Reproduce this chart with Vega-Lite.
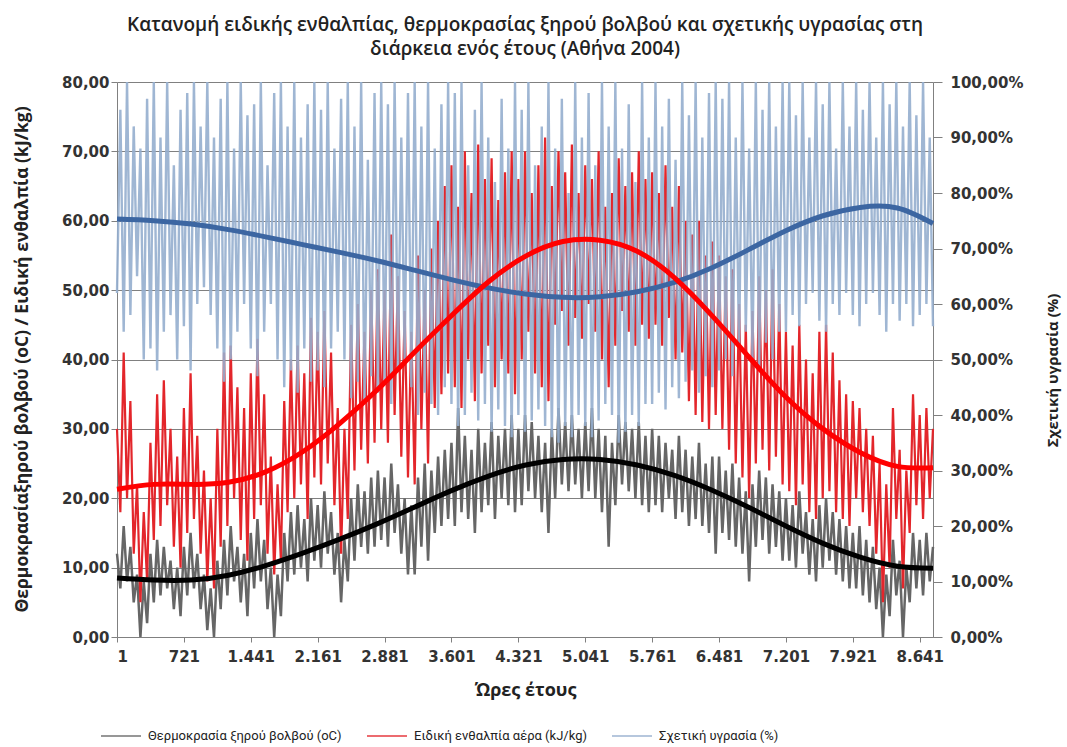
{
  "$schema": "https://vega.github.io/schema/vega-lite/v6.json",
  "width": 816,
  "height": 555,
  "autosize": {"type": "none"},
  "padding": {"left": 117, "top": 82, "right": 134, "bottom": 110},
  "background": "white",
  "config": {
    "view": {"stroke": null},
    "axis": {"domainColor": "#808080", "tickColor": "#808080", "gridColor": "#808080", "labelFont": "DejaVu Sans", "labelFontWeight": "bold", "labelFontSize": 15, "labelColor": "#333333", "titleFont": "Open Sans", "titleFontWeight": "bold", "titleFontSize": 17.5, "titleColor": "#222222"}
  },
  "title": {
    "text": ["Κατανομή ειδικής ενθαλπίας, θερμοκρασίας ξηρού βολβού και σχετικής υγρασίας στη", "διάρκεια ενός έτους (Αθήνα 2004)"],
    "font": "Open Sans", "fontSize": 19, "fontWeight": 600, "color": "#222222",
    "anchor": "middle", "frame": "group", "offset": 16, "lineHeight": 24
  },
  "datasets": {
    "obs": [
      {"h":1,"t":12,"e":30,"r":62},{"h":37,"t":7,"e":18,"r":95},{"h":73,"t":16,"e":41,"r":55},{"h":109,"t":8,"e":20,"r":100},{"h":145,"t":13,"e":34,"r":58},{"h":181,"t":5,"e":12,"r":92},{"h":217,"t":9,"e":22,"r":65},{"h":253,"t":0,"e":5,"r":88},{"h":289,"t":8,"e":18,"r":50},{"h":325,"t":2,"e":8,"r":97},{"h":361,"t":12,"e":28,"r":52},{"h":397,"t":5,"e":14,"r":100},{"h":433,"t":14,"e":35,"r":48},{"h":469,"t":6,"e":16,"r":90},{"h":505,"t":13,"e":37,"r":55},{"h":541,"t":7,"e":19,"r":100},{"h":577,"t":11,"e":30,"r":58},{"h":613,"t":4,"e":13,"r":85},{"h":649,"t":10,"e":26,"r":50},{"h":685,"t":3,"e":10,"r":95},
      {"h":721,"t":13,"e":33,"r":56},{"h":757,"t":6,"e":15,"r":98},{"h":793,"t":15,"e":38,"r":48},{"h":829,"t":7,"e":17,"r":100},{"h":865,"t":12,"e":29,"r":60},{"h":901,"t":4,"e":12,"r":92},{"h":937,"t":9,"e":24,"r":63},{"h":973,"t":1,"e":8,"r":100},{"h":1009,"t":7,"e":20,"r":58},{"h":1045,"t":0,"e":7,"r":90},{"h":1081,"t":11,"e":30,"r":52},{"h":1117,"t":4,"e":13,"r":97},{"h":1153,"t":14,"e":41,"r":46},{"h":1189,"t":6,"e":16,"r":100},{"h":1225,"t":16,"e":42,"r":50},{"h":1261,"t":8,"e":20,"r":88},{"h":1297,"t":13,"e":36,"r":55},{"h":1333,"t":5,"e":14,"r":100},{"h":1369,"t":12,"e":33,"r":60},{"h":1405,"t":3,"e":11,"r":94},
      {"h":1441,"t":15,"e":38,"r":52},{"h":1477,"t":7,"e":17,"r":96},{"h":1513,"t":17,"e":43,"r":47},{"h":1549,"t":8,"e":19,"r":100},{"h":1585,"t":14,"e":35,"r":55},{"h":1621,"t":4,"e":12,"r":85},{"h":1657,"t":10,"e":26,"r":60},{"h":1693,"t":0,"e":9,"r":98},{"h":1729,"t":9,"e":22,"r":50},{"h":1765,"t":3,"e":11,"r":100},{"h":1801,"t":15,"e":34,"r":45},{"h":1837,"t":8,"e":18,"r":92},{"h":1873,"t":18,"e":40,"r":48},{"h":1909,"t":9,"e":20,"r":100},{"h":1945,"t":19,"e":42,"r":44},{"h":1981,"t":10,"e":22,"r":90},{"h":2017,"t":17,"e":38,"r":52},{"h":2053,"t":8,"e":17,"r":96},{"h":2089,"t":20,"e":46,"r":46},{"h":2125,"t":11,"e":23,"r":100},
      {"h":2161,"t":19,"e":44,"r":48},{"h":2197,"t":10,"e":22,"r":95},{"h":2233,"t":21,"e":47,"r":45},{"h":2269,"t":12,"e":25,"r":100},{"h":2305,"t":18,"e":41,"r":52},{"h":2341,"t":9,"e":19,"r":88},{"h":2377,"t":15,"e":33,"r":55},{"h":2413,"t":5,"e":12,"r":97},{"h":2449,"t":14,"e":30,"r":50},{"h":2485,"t":8,"e":17,"r":100},{"h":2521,"t":20,"e":45,"r":43},{"h":2557,"t":11,"e":24,"r":92},{"h":2593,"t":22,"e":48,"r":46},{"h":2629,"t":13,"e":27,"r":100},{"h":2665,"t":21,"e":44,"r":42},{"h":2701,"t":12,"e":25,"r":86},{"h":2737,"t":23,"e":50,"r":47},{"h":2773,"t":13,"e":28,"r":98},{"h":2809,"t":24,"e":53,"r":44},{"h":2845,"t":14,"e":30,"r":100},
      {"h":2881,"t":23,"e":50,"r":46},{"h":2917,"t":13,"e":28,"r":96},{"h":2953,"t":25,"e":58,"r":42},{"h":2989,"t":15,"e":32,"r":100},{"h":3025,"t":22,"e":52,"r":48},{"h":3061,"t":12,"e":26,"r":90},{"h":3097,"t":20,"e":47,"r":50},{"h":3133,"t":9,"e":23,"r":98},{"h":3169,"t":19,"e":44,"r":45},{"h":3205,"t":9,"e":22,"r":100},{"h":3241,"t":23,"e":55,"r":40},{"h":3277,"t":13,"e":30,"r":92},{"h":3313,"t":25,"e":50,"r":44},{"h":3349,"t":11,"e":25,"r":100},{"h":3385,"t":24,"e":56,"r":42},{"h":3421,"t":15,"e":33,"r":88},{"h":3457,"t":26,"e":60,"r":40},{"h":3493,"t":16,"e":35,"r":96},{"h":3529,"t":27,"e":65,"r":45},{"h":3565,"t":17,"e":38,"r":100},
      {"h":3601,"t":28,"e":68,"r":42},{"h":3637,"t":16,"e":36,"r":98},{"h":3673,"t":33,"e":62,"r":38},{"h":3709,"t":18,"e":33,"r":100},{"h":3745,"t":29,"e":70,"r":40},{"h":3781,"t":17,"e":40,"r":85},{"h":3817,"t":27,"e":64,"r":44},{"h":3853,"t":15,"e":34,"r":95},{"h":3889,"t":30,"e":71,"r":39},{"h":3925,"t":18,"e":38,"r":100},{"h":3961,"t":28,"e":66,"r":42},{"h":3997,"t":19,"e":42,"r":90},{"h":4033,"t":31,"e":69,"r":37},{"h":4069,"t":17,"e":36,"r":82},{"h":4105,"t":29,"e":63,"r":41},{"h":4141,"t":20,"e":40,"r":97},{"h":4177,"t":30,"e":67,"r":38},{"h":4213,"t":19,"e":38,"r":88},{"h":4249,"t":32,"e":70,"r":36},{"h":4285,"t":18,"e":35,"r":100},
      {"h":4321,"t":30,"e":66,"r":40},{"h":4357,"t":19,"e":40,"r":95},{"h":4393,"t":32,"e":70,"r":37},{"h":4429,"t":21,"e":44,"r":100},{"h":4465,"t":31,"e":64,"r":39},{"h":4501,"t":20,"e":38,"r":85},{"h":4537,"t":29,"e":68,"r":41},{"h":4573,"t":18,"e":36,"r":92},{"h":4609,"t":28,"e":72,"r":38},{"h":4645,"t":15,"e":34,"r":100},{"h":4681,"t":30,"e":65,"r":36},{"h":4717,"t":20,"e":45,"r":88},{"h":4753,"t":33,"e":70,"r":35},{"h":4789,"t":22,"e":47,"r":97},{"h":4825,"t":31,"e":67,"r":38},{"h":4861,"t":21,"e":42,"r":80},{"h":4897,"t":32,"e":71,"r":36},{"h":4933,"t":22,"e":46,"r":100},{"h":4969,"t":30,"e":64,"r":40},{"h":5005,"t":20,"e":43,"r":90},
      {"h":5041,"t":31,"e":68,"r":38},{"h":5077,"t":21,"e":48,"r":98},{"h":5113,"t":33,"e":66,"r":36},{"h":5149,"t":20,"e":44,"r":85},{"h":5185,"t":30,"e":70,"r":39},{"h":5221,"t":18,"e":40,"r":100},{"h":5257,"t":29,"e":62,"r":42},{"h":5293,"t":13,"e":36,"r":92},{"h":5329,"t":28,"e":64,"r":40},{"h":5365,"t":19,"e":42,"r":100},{"h":5401,"t":32,"e":69,"r":35},{"h":5437,"t":22,"e":47,"r":88},{"h":5473,"t":31,"e":65,"r":37},{"h":5509,"t":21,"e":44,"r":96},{"h":5545,"t":30,"e":67,"r":40},{"h":5581,"t":20,"e":42,"r":82},{"h":5617,"t":31,"e":70,"r":38},{"h":5653,"t":19,"e":45,"r":100},{"h":5689,"t":29,"e":66,"r":42},{"h":5725,"t":18,"e":43,"r":90},
      {"h":5761,"t":30,"e":67,"r":42},{"h":5797,"t":19,"e":45,"r":100},{"h":5833,"t":29,"e":64,"r":44},{"h":5869,"t":18,"e":42,"r":92},{"h":5905,"t":28,"e":68,"r":41},{"h":5941,"t":20,"e":46,"r":97},{"h":5977,"t":27,"e":62,"r":45},{"h":6013,"t":17,"e":40,"r":86},{"h":6049,"t":29,"e":65,"r":43},{"h":6085,"t":18,"e":41,"r":100},{"h":6121,"t":27,"e":60,"r":46},{"h":6157,"t":16,"e":34,"r":94},{"h":6193,"t":26,"e":58,"r":48},{"h":6229,"t":17,"e":32,"r":100},{"h":6265,"t":28,"e":60,"r":44},{"h":6301,"t":16,"e":31,"r":90},{"h":6337,"t":25,"e":55,"r":47},{"h":6373,"t":15,"e":30,"r":98},{"h":6409,"t":26,"e":57,"r":45},{"h":6445,"t":12,"e":32,"r":100},
      {"h":6481,"t":26,"e":55,"r":48},{"h":6517,"t":15,"e":30,"r":97},{"h":6553,"t":24,"e":52,"r":50},{"h":6589,"t":14,"e":27,"r":100},{"h":6625,"t":25,"e":53,"r":47},{"h":6661,"t":13,"e":25,"r":90},{"h":6697,"t":23,"e":48,"r":52},{"h":6733,"t":12,"e":23,"r":100},{"h":6769,"t":21,"e":45,"r":55},{"h":6805,"t":8,"e":20,"r":88},{"h":6841,"t":22,"e":47,"r":50},{"h":6877,"t":13,"e":25,"r":100},{"h":6913,"t":24,"e":52,"r":48},{"h":6949,"t":14,"e":27,"r":95},{"h":6985,"t":23,"e":50,"r":53},{"h":7021,"t":12,"e":24,"r":100},{"h":7057,"t":22,"e":53,"r":50},{"h":7093,"t":13,"e":26,"r":92},{"h":7129,"t":21,"e":48,"r":55},{"h":7165,"t":11,"e":22,"r":100},
      {"h":7201,"t":20,"e":44,"r":55},{"h":7237,"t":11,"e":21,"r":100},{"h":7273,"t":19,"e":42,"r":58},{"h":7309,"t":10,"e":19,"r":94},{"h":7345,"t":21,"e":45,"r":56},{"h":7381,"t":12,"e":22,"r":100},{"h":7417,"t":18,"e":40,"r":60},{"h":7453,"t":9,"e":18,"r":90},{"h":7489,"t":17,"e":38,"r":62},{"h":7525,"t":8,"e":17,"r":100},{"h":7561,"t":19,"e":44,"r":57},{"h":7597,"t":10,"e":20,"r":96},{"h":7633,"t":20,"e":45,"r":55},{"h":7669,"t":11,"e":21,"r":100},{"h":7705,"t":18,"e":41,"r":60},{"h":7741,"t":9,"e":18,"r":88},{"h":7777,"t":17,"e":37,"r":58},{"h":7813,"t":8,"e":17,"r":100},{"h":7849,"t":16,"e":35,"r":62},{"h":7885,"t":7,"e":16,"r":92},
      {"h":7921,"t":15,"e":34,"r":58},{"h":7957,"t":7,"e":20,"r":100},{"h":7993,"t":16,"e":33,"r":56},{"h":8029,"t":6,"e":18,"r":95},{"h":8065,"t":14,"e":30,"r":60},{"h":8101,"t":5,"e":16,"r":100},{"h":8137,"t":13,"e":29,"r":62},{"h":8173,"t":4,"e":12,"r":90},{"h":8209,"t":10,"e":25,"r":58},{"h":8245,"t":0,"e":5,"r":100},{"h":8281,"t":9,"e":22,"r":55},{"h":8317,"t":3,"e":10,"r":96},{"h":8353,"t":14,"e":33,"r":60},{"h":8389,"t":6,"e":17,"r":100},{"h":8425,"t":11,"e":27,"r":57},{"h":8461,"t":0,"e":7,"r":92},{"h":8497,"t":10,"e":24,"r":60},{"h":8533,"t":5,"e":15,"r":100},{"h":8569,"t":15,"e":35,"r":56},{"h":8605,"t":7,"e":19,"r":94},{"h":8641,"t":14,"e":32,"r":58},{"h":8677,"t":6,"e":17,"r":100},{"h":8713,"t":15,"e":33,"r":60},{"h":8749,"t":8,"e":20,"r":90},{"h":8784,"t":13,"e":30,"r":56}
    ],
    "trend": [
      {"h":1,"tt":8.5,"te":21.3,"tr":75.3},{"h":400,"tt":8.2,"te":22.0,"tr":75.0},{"h":800,"tt":8.2,"te":22.0,"tr":74.4},{"h":1200,"tt":8.9,"te":22.3,"tr":73.4},{"h":1600,"tt":10.3,"te":23.8,"tr":72.1},{"h":2000,"tt":12.1,"te":26.7,"tr":70.7},{"h":2400,"tt":14.1,"te":30.8,"tr":69.3},{"h":2800,"tt":16.3,"te":35.6,"tr":67.8},{"h":3200,"tt":18.7,"te":41.0,"tr":66.1},{"h":3600,"tt":21.1,"te":46.3,"tr":64.4},{"h":4000,"tt":23.2,"te":51.2,"tr":62.9},{"h":4400,"tt":24.8,"te":54.9,"tr":61.8},{"h":4800,"tt":25.6,"te":57.0,"tr":61.2},{"h":5200,"tt":25.6,"te":57.2,"tr":61.3},{"h":5600,"tt":24.8,"te":55.6,"tr":62.2},{"h":6000,"tt":23.3,"te":51.8,"tr":63.9},{"h":6400,"tt":21.2,"te":46.4,"tr":66.5},{"h":6800,"tt":18.7,"te":40.4,"tr":69.8},{"h":7200,"tt":16.0,"te":34.6,"tr":73.2},{"h":7600,"tt":13.5,"te":30.0,"tr":75.9},{"h":8000,"tt":11.5,"te":26.6,"tr":77.4},{"h":8400,"tt":10.2,"te":24.6,"tr":77.3},{"h":8784,"tt":9.9,"te":24.4,"tr":74.5}
    ]
  },
  "encoding": {
    "x": {"field": "h", "type": "quantitative", "scale": {"domain": [1, 8784], "nice": false, "zero": false},
      "axis": {"values": [1,721,1441,2161,2881,3601,4321,5041,5761,6481,7201,7921,8641], "grid": false, "tickSize": 5, "labelPadding": 7, "labelExpr": "replace(format(datum.value, ','), ',', '.')", "title": "Ώρες έτους", "titleY": 53, "titleX": 408, "titleBaseline": "middle", "titleFontSize": 18}}
  },
  "layer": [
    {"data": {"name": "obs"}, "mark": {"type": "line", "strokeWidth": 2.5},
      "encoding": {
        "y": {"field": "t", "type": "quantitative", "scale": {"domain": [0, 80], "nice": false},
          "axis": {"orient": "left", "values": [0,10,20,30,40,50,60,70,80], "grid": true, "tickSize": 6, "labelPadding": 2, "labelExpr": "replace(format(datum.value, '.2f'), '.', ',')", "title": "Θερμοκρασίαξηρού βολβού (oC) / Ειδική ενθαλπία (kJ/kg)", "titleAngle": -90, "titleX": -95, "titleY": 277, "titleAlign": "center", "titleBaseline": "middle"}},
        "color": {"datum": "Θερμοκρασία ξηρού βολβού (oC)", "type": "nominal",
          "scale": {"domain": ["Θερμοκρασία ξηρού βολβού (oC)", "Ειδική ενθαλπία αέρα (kJ/kg)", "Σχετική υγρασία (%)"], "range": ["#666666", "#e3262b", "#95aece"]},
          "legend": {"orient": "none", "legendX": -17, "legendY": 633, "direction": "horizontal", "title": null, "symbolType": "stroke", "symbolSize": 1600, "symbolStrokeWidth": 1.5, "labelFont": "Roboto", "labelFontSize": 13, "labelColor": "#222222", "labelLimit": 400, "columnPadding": 22, "labelOffset": 6}}
      }},
    {"data": {"name": "obs"}, "mark": {"type": "line", "strokeWidth": 2.2},
      "encoding": {
        "y": {"field": "e", "type": "quantitative", "scale": {"domain": [0, 80], "nice": false}, "axis": null},
        "color": {"datum": "Ειδική ενθαλπία αέρα (kJ/kg)", "type": "nominal"}
      }},
    {"data": {"name": "obs"}, "mark": {"type": "line", "strokeWidth": 2.4, "opacity": 0.9},
      "encoding": {
        "y": {"field": "r", "type": "quantitative", "scale": {"domain": [0, 100], "nice": false},
          "axis": {"orient": "right", "values": [0,10,20,30,40,50,60,70,80,90,100], "grid": false, "tickSize": 9, "labelPadding": 8, "labelExpr": "replace(format(datum.value, '.2f'), '.', ',') + '%'", "title": "Σχετική υγρασία (%)", "titleFontSize": 15, "titleAngle": -90, "titleX": 119, "titleY": 288, "titleAlign": "center", "titleBaseline": "middle"}},
        "color": {"datum": "Σχετική υγρασία (%)", "type": "nominal"}
      }},
    {"data": {"name": "trend"}, "mark": {"type": "line", "strokeWidth": 5, "color": "#3c66a2", "interpolate": "natural"},
      "encoding": {"y": {"field": "tr", "type": "quantitative", "scale": {"domain": [0, 100], "nice": false}, "axis": null}}},
    {"data": {"name": "trend"}, "mark": {"type": "line", "strokeWidth": 5, "color": "#ff0000", "interpolate": "natural"},
      "encoding": {"y": {"field": "te", "type": "quantitative", "scale": {"domain": [0, 80], "nice": false}, "axis": null}}},
    {"data": {"name": "trend"}, "mark": {"type": "line", "strokeWidth": 5, "color": "#000000", "interpolate": "natural"},
      "encoding": {"y": {"field": "tt", "type": "quantitative", "scale": {"domain": [0, 80], "nice": false}, "axis": null}}}
  ],
  "resolve": {"scale": {"y": "independent"}, "axis": {"y": "independent"}}
}
